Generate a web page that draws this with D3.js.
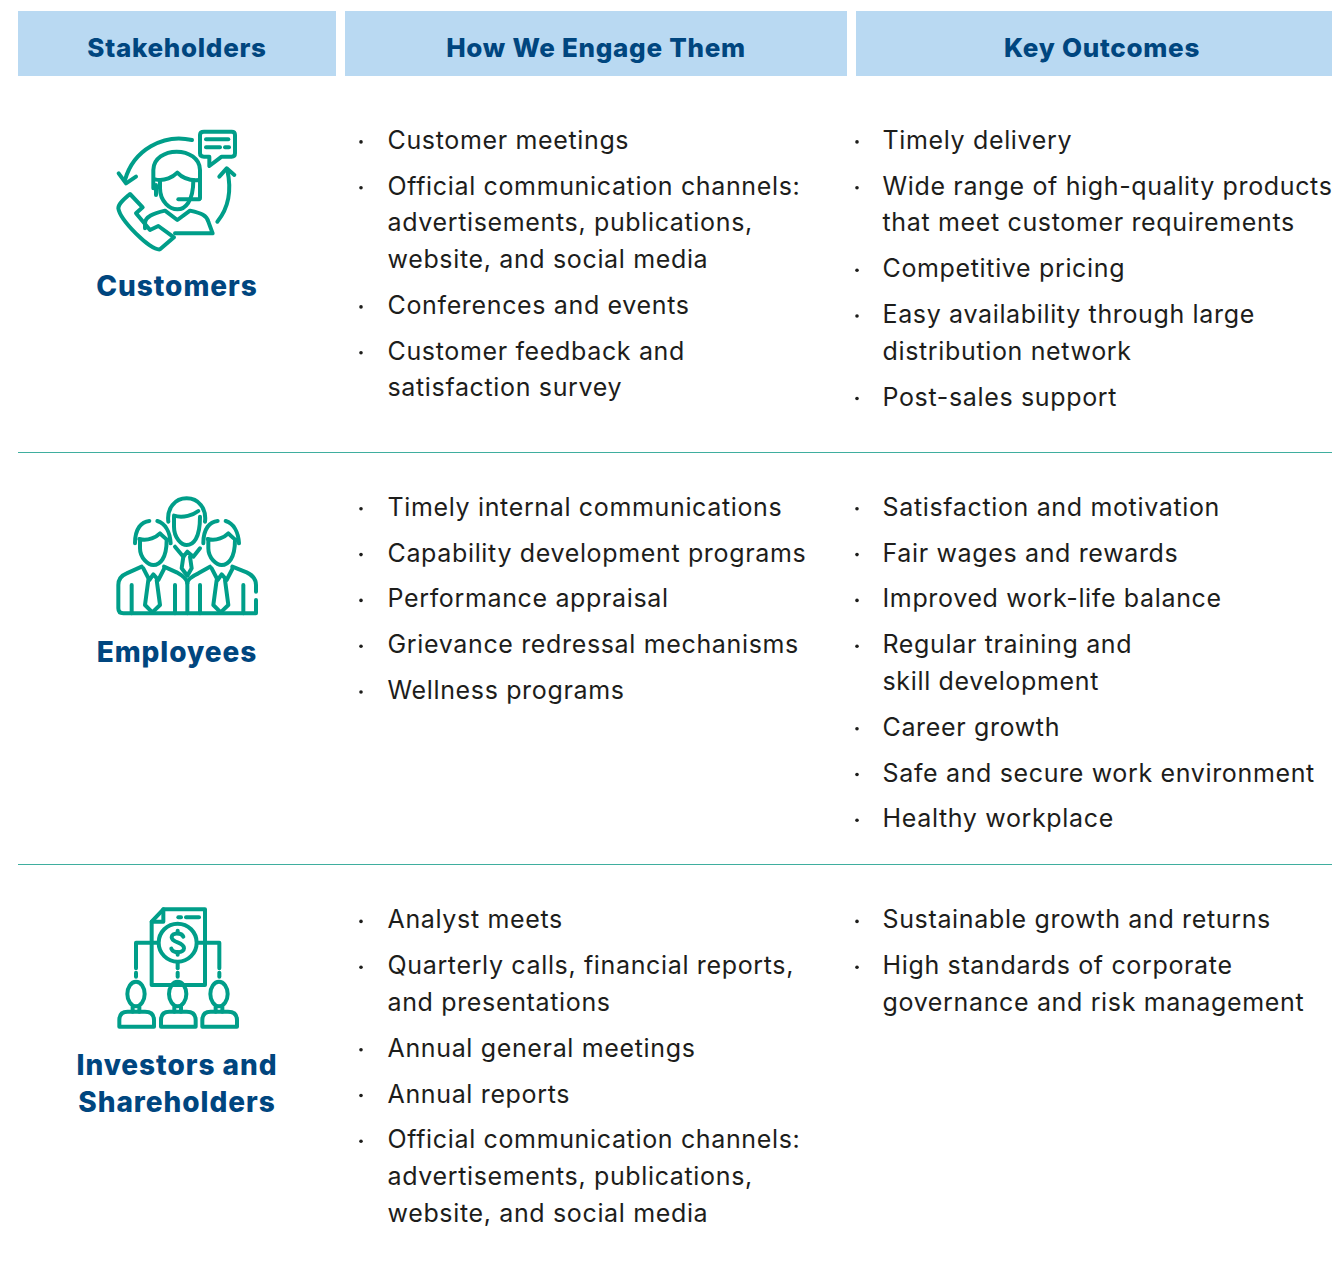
<!DOCTYPE html>
<html>
<head>
<meta charset="utf-8">
<script src="https://cdnjs.cloudflare.com/ajax/libs/d3/7.8.5/d3.min.js"></script>
<style>
  body { margin: 0; background: #fff; }
  text { font-family: Inter, "Open Sans", sans-serif; }
  .head { font-size: 26px; font-weight: 800; fill: #00467f; text-anchor: middle; letter-spacing: 0.7px; }
  .who { font-size: 28px; font-weight: 800; fill: #00467f; text-anchor: middle; letter-spacing: 0.95px; }
  .item { font-size: 25px; fill: #1d1d1b; letter-spacing: 0.65px; }
  .bullet { fill: #1d1d1b; }
  .icon path, .icon ellipse, .icon circle { fill: none; stroke: #009e89; stroke-width: 12; stroke-linejoin: round; stroke-linecap: round; }
</style>
</head>
<body>
<div id="chart"></div>
<script>
var columns = ["Stakeholders", "How We Engage Them", "Key Outcomes"];
var stakeholders = [["Customers"], ["Employees"], ["Investors and", "Shareholders"]];

var engage = [
  [["Customer meetings"],
   ["Official communication channels:", "advertisements, publications,", "website, and social media"],
   ["Conferences and events"],
   ["Customer feedback and", "satisfaction survey"]],
  [["Timely internal communications"],
   ["Capability development programs"],
   ["Performance appraisal"],
   ["Grievance redressal mechanisms"],
   ["Wellness programs"]],
  [["Analyst meets"],
   ["Quarterly calls, financial reports,", "and presentations"],
   ["Annual general meetings"],
   ["Annual reports"],
   ["Official communication channels:", "advertisements, publications,", "website, and social media"]]
];

var outcomes = [
  [["Timely delivery"],
   ["Wide range of high-quality products", "that meet customer requirements"],
   ["Competitive pricing"],
   ["Easy availability through large", "distribution network"],
   ["Post-sales support"]],
  [["Satisfaction and motivation"],
   ["Fair wages and rewards"],
   ["Improved work-life balance"],
   ["Regular training and", "skill development"],
   ["Career growth"],
   ["Safe and secure work environment"],
   ["Healthy workplace"]],
  [["Sustainable growth and returns"],
   ["High standards of corporate", "governance and risk management"]]
];

var width = 1332, height = 1267;
var line_h = 36.7, item_gap = 45.8;
var row_top = [148.9, 515.8, 928.4];
var rule_y = [452, 864];
var col_x = [[18, 336], [345, 847], [856, 1332]];
var head_x = [177, 596, 1102];

var svg = d3.select("#chart").append("svg")
    .attr("width", width)
    .attr("height", height)
    .style("display", "block");

// header bands
var head = svg.selectAll(".headcell")
    .data(columns)
  .enter().append("g")
    .attr("class", "headcell");

head.append("rect")
    .attr("x", function(d, i) { return col_x[i][0]; })
    .attr("y", 11)
    .attr("width", function(d, i) { return col_x[i][1] - col_x[i][0]; })
    .attr("height", 65)
    .attr("fill", "#b9d9f2");

head.append("text")
    .attr("class", "head")
    .attr("x", function(d, i) { return head_x[i]; })
    .attr("y", 57)
    .text(function(d) { return d; });

svg.selectAll(".rule")
    .data(rule_y)
  .enter().append("line")
    .attr("class", "rule")
    .attr("x1", 18)
    .attr("x2", width)
    .attr("y1", function(d) { return d + 0.5; })
    .attr("y2", function(d) { return d + 0.5; })
    .attr("stroke", "#3fae9f");

// bullet lists, one per cell
function drawList(items, top, text_x, bullet_x) {
  var y = top;
  items.forEach(function(lines) {
    svg.append("circle")
        .attr("class", "bullet")
        .attr("cx", bullet_x)
        .attr("cy", y - 7)
        .attr("r", 1.8);
    lines.forEach(function(l, i) {
      svg.append("text")
          .attr("class", "item")
          .attr("x", text_x)
          .attr("y", y + i * line_h)
          .text(l);
    });
    y += (lines.length - 1) * line_h + item_gap;
  });
}

row_top.forEach(function(top, i) {
  drawList(engage[i], top, 387.5, 361);
  drawList(outcomes[i], top, 882.5, 857);
});

var who_y = [296, 662, 1075];
stakeholders.forEach(function(lines, i) {
  lines.forEach(function(l, j) {
    svg.append("text")
        .attr("class", "who")
        .attr("x", 177)
        .attr("y", who_y[i] + j * line_h)
        .text(l);
  });
});

function icon(x, y) {
  return svg.append("g")
      .attr("class", "icon")
      .attr("transform", "translate(" + x + "," + y + ") scale(" + 1 / 3 + ")");
}

function addPaths(g, paths) {
  paths.forEach(function(p) { g.append("path").attr("d", p); });
}

// customers icon, traced in 3x crop units
addPaths(icon(100, 120), [
  "M276,60C190,40 100,90 75,180",
  "M56,160L78,190L108,170",
  "M312,35H395Q405,35 405,45V100Q405,110 395,110H365L328,138V110H312Q300,110 300,100V45Q300,35 312,35Z",
  "M318,58H385", "M318,82H360", "M375,82H387",
  "M352,305C385,265 395,210 382,150",
  "M358,170L380,145L403,165",
  "M160,205V150C160,115 195,95 230,95C265,95 300,115 300,150V235",
  "M180,180V205C180,245 210,268 232,268C255,268 280,245 280,180",
  "M165,178C195,185 220,170 232,158C245,172 265,183 298,180",
  "M168,195V225", "M298,238H235",
  "M135,325V310C135,290 160,280 195,272L232,300L270,272C305,280 320,285 325,305L338,340H225",
  "M90,222L128,262L108,280L150,330L175,318L222,352L180,388C150,392 60,300 55,265C55,250 75,235 90,222Z"
]);

// employees icon
var emp = icon(100, 485);
addPaths(emp, [
  "M205,110C200,70 225,40 260,40C295,40 320,70 315,110",
  "M222,95V125C222,160 245,180 260,180C280,180 300,160 300,95",
  "M222,92C250,100 280,90 295,78",
  "M225,185L250,215L262,200L280,215L300,190",
  "M250,215L245,250L262,272L275,250L270,215",
  "M262,385V295"
]);
[0, 205].forEach(function(dx) {
  var g = emp.append("g").attr("transform", "translate(" + dx + ",0)");
  addPaths(g, [
    "M105,175C105,130 125,110 148,108", "M172,108C195,115 210,140 212,175",
    "M120,165V190C120,220 145,240 160,240C180,240 200,220 200,165",
    "M118,162C145,170 170,155 180,145C190,155 195,160 203,165",
    "M130,250L148,285L160,268L175,285L192,252",
    "M145,285L135,360L157,382L180,360L170,285",
    "M95,300V385", "M225,300V385"
  ]);
});
addPaths(emp, [
  "M468,320V300Q468,275 440,262L397,245",
  "M468,345V385H70Q55,385 55,370V300Q55,275 80,265L125,245",
  "M192,245L230,262Q262,280 262,295Q262,280 295,265L330,245"
]);

// investors icon
var inv = icon(100, 900);
addPaths(inv, [
  "M190,28H315V255H155V65L190,28Z", "M190,28V65H155",
  "M235,52H243", "M258,52H297",
  "M175,128H108V205", "M290,128H358V205", "M233,185V205",
  "M108,218V230", "M233,218V230", "M358,218V230"
]);
inv.append("circle")
    .attr("cx", 233).attr("cy", 128).attr("r", 57)
    .style("fill", "#fff");
addPaths(inv, [
  "M250,110C245,97 215,97 215,112C215,130 252,125 252,145C252,160 220,160 214,146",
  "M233,92V100", "M233,156V164"
]);
[108, 233, 357].forEach(function(cx) {
  var g = inv.append("g").attr("transform", "translate(" + cx + ",0)");
  g.append("ellipse").attr("cx", 0).attr("cy", 282).attr("rx", 26).attr("ry", 37);
  addPaths(g, [
    "M-10,320V335", "M10,320V335",
    "M-50,380V360Q-50,335 -25,335H27Q54,335 54,360V380Z"
  ]);
});
</script>
</body>
</html>
